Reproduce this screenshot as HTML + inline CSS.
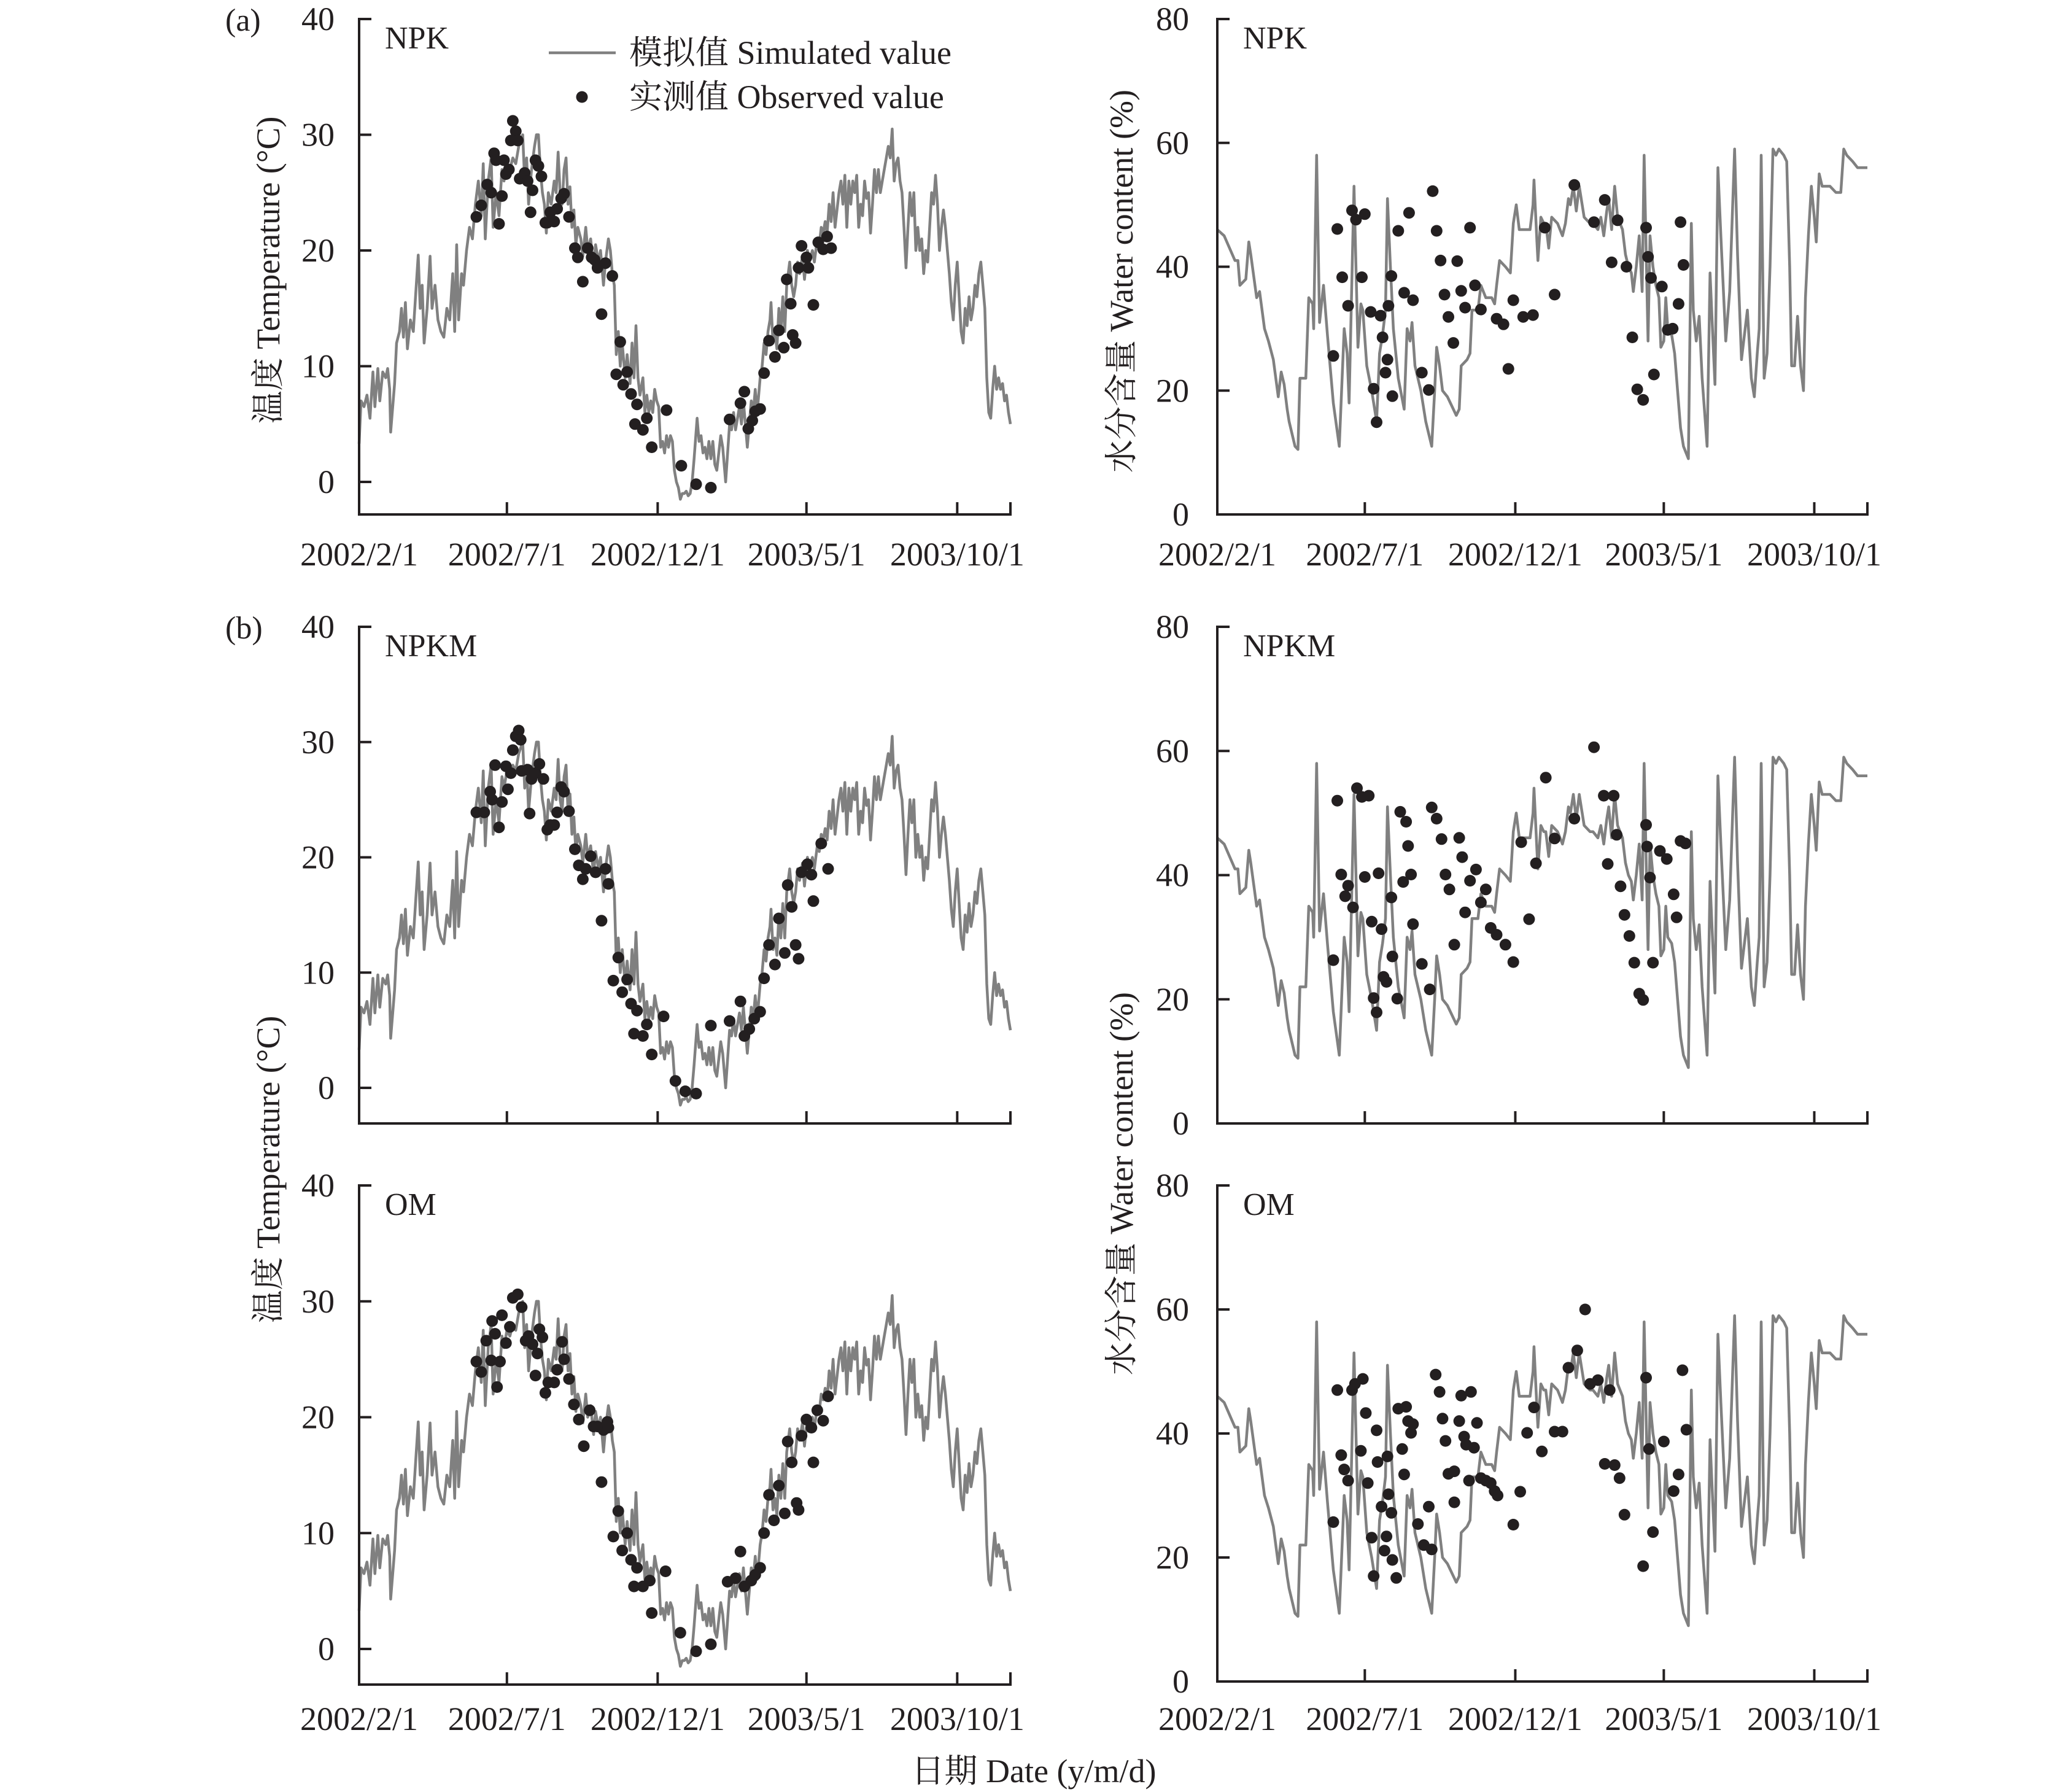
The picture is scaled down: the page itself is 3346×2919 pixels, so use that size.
<!DOCTYPE html>
<html><head><meta charset="utf-8"><style>
html,body{margin:0;padding:0;background:#fff;}
svg{display:block;}
text{font-family:"Liberation Serif","Noto Serif CJK SC","Noto Sans CJK SC",serif;fill:#231f20;}
</style></head><body>
<svg id="chart" width="3346" height="2919" viewBox="0 0 3346 2919" xmlns="http://www.w3.org/2000/svg"></svg>
<script>
const xTickDays=[0,150,303,454,607];
const xTickLabels=["2002/2/1","2002/7/1","2002/12/1","2003/5/1","2003/10/1"];
const tempTicks=[0,10,20,30,40];
const waterTicks=[0,20,40,60,80];
const simTempDays=[0,2,5,8,11,14,16,19,21,24,27,29,31,32,36,38,41,43,45,47,49,52,55,58,60,62,64,66,69,72,74,77,80,83,86,89,92,95,97,99,101,104,106,109,112,115,118,121,124,126,128,131,134,136,139,142,145,147,150,153,156,159,162,166,168,170,172,175,178,180,182,184,186,188,190,192,195,198,200,202,204,206,208,210,212,214,216,218,220,222,225,227,230,232,235,238,240,243,245,248,250,253,255,257,259,261,263,265,267,270,272,275,277,279,281,283,285,288,290,292,294,296,298,300,302,304,306,308,310,312,314,316,318,320,322,324,326,328,330,332,334,336,338,340,343,345,347,349,351,353,355,357,359,361,363,365,367,369,371,372,374,376,378,380,382,384,386,388,390,392,394,396,398,400,402,404,407,409,411,413,415,417,418,420,422,424,426,428,430,432,434,437,439,441,443,445,447,450,452,455,457,460,462,465,467,469,471,473,475,477,479,481,483,485,487,489,491,493,495,497,499,501,503,505,507,509,511,513,515,517,519,521,523,525,527,529,531,533,535,537,539,541,543,545,547,549,551,553,555,557,559,561,563,565,567,569,571,573,575,577,579,581,583,585,587,589,591,593,595,597,599,601,603,605,607,609,611,613,615,617,619,621,623,625,627,629,631,633,635,637,639,641,643,645,647,649,651,653,655,657,659,661];
const simTempVals=[3.3,7,6.5,7.5,5.5,9.5,6.5,9.8,7,9.5,9,9.8,8,4.3,8.5,12,13,15,12.5,15.5,11.5,14,13,17,19.6,15,17,12,15,19.5,15,17,14,13,12.5,15,14,18,13,20.5,14,18,17,20,22,21,24,26,23,27.5,21,26,28,22,25,23,27,26,27.5,27,28,27.5,29,30,26,28,24,27,29,30,30,27,25,24,21.5,25,24,26,25,28.5,25,24,27,28,24,25.5,22,23.5,20.5,22,21,19.5,22,20,21,18.5,20.5,19,20,17,19,21,20,18,17,11,13,10,12,9,11,8.5,12,9,13.5,9,7.5,9,6,7.5,6,7,6,8,7,6.5,3,3.5,2.5,4,3,4,3.5,1,0,-0.5,-1.5,-1,-1,-0.8,-1.2,-1,0,2,5.5,3.5,4,2.5,3,2,3.5,2,3.5,1.5,1,2.5,4,3,1,0,2.5,5,4.5,6,4.5,5.5,6.5,5,7,5,3,5,7,6,8,6,9,10,12,11,13,14,15.5,12,13,11.5,15,13,16,13,17,19,17,16,17,19,18,19.5,17.5,20,19,20,19,21,20.5,22,21.5,22.5,21.5,24,22.5,25,22,23.5,25,26,24,26.5,22,26,24,26,25,26.5,22,24,23,26,24.5,25,21.5,24,27,25,27,25,26,27,28,29,28,30.5,26,27.5,28,26,25,22,18.5,22,25,23,25,20,22,20,21,18,20,19,22,25,24,26.5,24,20,22,23.5,22,20,18,15.5,14,17,19,16,13,12,15,13.5,16,14,15,17,16,18,19,17,15,9,6,5.5,8,10,8,9,8,8.5,7,7.5,6,5];
const simWaterDays=[0,7,18,21,23,29,32,34,40,43,48,52,57,62,65,68,71,73,79,82,84,90,93,97,98,101,104,108,112,118,124,129,132,134,139,143,146,148,152,157,162,165,168,171,173,176,179,184,190,193,196,198,201,207,212,218,221,223,226,229,234,240,243,246,248,254,257,259,265,268,273,279,282,284,287,293,298,301,304,307,312,318,321,322,325,326,329,332,334,337,340,346,351,354,357,359,362,365,368,371,373,379,382,387,390,393,396,398,401,404,407,412,415,418,421,423,426,429,432,434,438,440,443,446,449,451,454,456,458,462,465,468,471,474,479,482,484,487,490,493,498,501,504,506,509,512,517,521,526,529,533,539,543,546,549,551,553,556,559,562,565,568,571,576,579,582,584,587,590,593,596,598,601,604,607,609,612,615,623,629,634,637,640,646,651,661];
const simWaterVals=[46,45,41,41,37,38,44,42,35,36,30,28,25,19,23,21,17,15,11,10.5,22,22,35,34,30,58,31,37,29,18,11,30,26,18,53,27,34,33,24,20,15,26,29,33,51,40,30,22,17,30,28,31,24,20,15,11,20,27,24,20,19,17,16,17,24,25,26,33,33,37,35,35,34,37,41,40,39,47,50,46,46,46,50,54,44,41,48,47,47,43,48,47,45,47,51,50,53,49,53,50,48,47,47,46,48,45,49,51,46,53,48,46,42,40,39,36,40,45,36,58,28,45,40,37,35,27,28,35,30,29,26,20,14,11,9,47,33,28,32,22,11,39,28,21,56,45,28,36,59,42,25,33,22,19,26,30,58,22,26,40,59,58,59,58,57,40,24,24,32,24,20,35,45,53,48,44,55,53,53,52,52,59,58,57,56,56];
const npkTempDays=[119,124,130,134,137,139,142,145,147,149,152,154,156,159,161,163,168,171,174,176,179,182,185,189,191,194,198,201,205,208,213,219,222,227,232,236,239,242,250,257,246,265,261,268,272,276,282,280,288,292,297,312,327,342,357,376,387,391,395,399,402,407,411,416,422,426,431,434,438,440,443,446,449,454,456,461,466,471,475,479];
const npkTempVals=[22.9,23.9,25.7,25.0,28.4,27.8,22.3,24.7,27.8,26.6,27.0,29.5,31.2,30.3,29.5,26.2,26.7,26.0,23.3,25.2,27.8,27.3,26.4,22.4,22.4,23.3,22.5,23.6,24.5,24.9,22.9,20.2,19.4,17.3,20.2,19.4,19.2,18.5,18.9,17.8,14.5,12.1,9.3,8.4,9.5,7.6,6.7,5.0,4.5,5.5,3.0,6.2,1.4,-0.2,-0.5,5.4,6.8,7.8,4.6,5.3,6.1,6.3,9.4,12.2,10.8,13.1,11.6,17.5,15.4,12.7,12.0,18.5,20.4,19.4,18.5,15.3,20.7,20.1,21.2,20.2];
const npkmTempDays=[119,127,133,135,138,142,145,149,151,154,156,159,162,164,165,171,173,175,179,183,187,191,194,198,201,205,208,213,219,223,227,230,235,240,246,250,253,258,263,267,272,276,282,279,288,292,297,309,321,331,342,357,376,387,391,396,401,407,411,416,422,426,432,435,439,443,446,449,455,459,461,469,476];
const npkmTempVals=[23.9,23.9,25.7,25.0,28.0,22.6,24.8,27.9,25.9,27.3,29.3,30.5,31.0,30.2,27.5,27.6,23.8,26.8,27.3,28.1,26.8,22.4,22.8,22.8,23.9,26.1,25.7,24.0,20.7,19.3,18.1,19.0,20.1,18.7,14.5,19.0,17.7,9.3,11.3,8.3,9.4,7.3,6.7,4.7,4.5,5.5,2.9,6.2,0.6,-0.3,-0.5,5.4,5.8,7.5,4.5,5.1,6.0,6.6,9.5,12.4,10.7,14.7,11.7,17.6,15.7,12.4,11.2,18.7,19.4,18.5,16.2,21.2,19.0];
const omTempDays=[119,124,129,134,135,138,140,143,145,149,153,156,161,165,169,172,176,179,181,183,186,189,192,198,201,206,208,213,218,223,228,234,238,242,246,248,252,253,258,263,267,272,276,282,279,288,295,297,311,326,342,357,374,382,387,391,398,402,407,411,416,421,426,432,435,439,444,446,449,454,459,461,465,471,476];
const omTempVals=[24.8,23.9,26.6,24.9,28.3,27.2,22.6,24.8,28.8,26.4,27.8,30.3,30.6,29.5,26.6,27.0,26.3,23.6,25.5,27.6,26.9,22.1,23.0,23.0,24.1,26.5,25.0,23.3,21.1,19.8,17.5,20.6,19.2,19.2,14.4,18.9,19.6,19.1,9.7,11.9,8.5,10.0,7.7,7.0,5.4,5.4,5.9,3.1,6.7,1.4,-0.2,0.4,5.8,6.1,8.4,5.4,5.9,6.4,7.0,10.0,13.3,11.1,14.1,11.7,17.9,16.1,12.6,12.0,18.4,19.8,19.1,16.1,20.6,19.7,21.8];
const npkWaterDays=[118,122,127,133,137,141,147,150,156,159,162,166,168,171,173,174,177,178,184,190,195,199,208,215,219,223,227,231,235,240,244,248,252,257,262,268,284,291,296,301,311,321,333,343,363,383,394,401,407,416,422,427,433,436,438,441,444,452,458,463,469,471,474];
const npkWaterVals=[25.6,46.1,38.3,33.7,49.1,47.6,38.3,48.5,32.7,20.3,14.9,32.1,28.6,22.9,25.0,33.7,38.5,19.1,45.8,35.8,48.7,34.6,22.9,20.1,52.2,45.8,41.0,35.5,31.9,27.7,40.9,36.1,33.4,46.3,37.0,33.1,31.6,30.7,23.5,34.6,31.9,32.2,46.3,35.5,53.2,47.2,50.8,40.7,47.5,40.0,28.6,20.2,18.5,46.3,41.6,38.2,22.6,36.8,29.8,30.0,34.0,47.2,40.3];
const npkmWaterDays=[118,122,126,130,133,138,142,147,154,150,157,159,162,164,167,169,172,177,178,183,186,189,192,194,197,199,208,216,218,223,228,232,236,241,246,249,252,257,263,268,273,278,284,293,301,309,317,324,334,343,363,383,393,397,403,406,410,414,419,424,429,433,436,437,440,443,450,457,464,467,471,476];
const npkmWaterVals=[26.3,52.0,40.1,36.6,38.3,34.8,54.0,52.6,52.8,39.7,32.5,20.2,17.9,40.3,31.3,23.6,22.8,36.4,26.9,20.1,50.2,38.9,48.6,44.7,40.1,32.1,25.7,21.6,50.9,49.1,45.8,40.1,37.7,28.8,46.0,42.9,34.0,39.1,40.9,35.6,37.7,31.5,30.4,28.8,26.0,45.3,32.9,41.9,55.7,45.9,49.1,60.6,52.8,41.8,52.8,46.5,38.2,33.6,30.2,25.9,20.9,19.9,48.1,44.6,39.6,25.9,43.9,42.6,36.9,33.2,45.5,45.1];
const omWaterDays=[118,122,126,129,133,137,140,148,146,151,153,157,159,162,163,167,170,172,173,174,177,178,182,184,188,190,192,194,197,199,204,210,215,218,222,226,229,232,235,241,241,246,248,251,253,256,258,261,264,268,273,278,282,285,301,308,315,322,330,343,351,357,366,374,379,387,394,399,404,409,414,433,436,439,443,454,464,469,473,477];
const omWaterVals=[25.7,47.0,36.5,34.2,32.4,47.0,48.0,48.8,37.2,43.3,32.0,23.2,17.0,40.5,35.4,28.2,21.1,23.4,36.3,30.2,27.2,19.6,16.7,44.0,37.5,33.4,44.3,42.0,40.1,41.5,25.4,22.0,28.2,21.3,49.5,46.7,42.4,38.8,33.5,33.9,28.9,42.0,46.1,39.5,38.2,32.4,46.7,37.7,41.7,32.8,32.4,32.0,30.7,30.0,25.3,30.6,40.1,44.2,37.1,40.3,40.3,50.6,53.4,60.0,48.0,48.6,35.1,47.0,34.9,32.8,26.9,18.6,49.0,37.5,24.1,38.7,30.7,33.4,50.2,40.6];

const NS="http://www.w3.org/2000/svg";
const svg=document.getElementById('chart');
function mk(tag,attrs,parent){const e=document.createElementNS(NS,tag);for(const k in attrs)e.setAttribute(k,attrs[k]);(parent||svg).appendChild(e);return e;}
const DAYMAX=661;
const panels=[
 {name:'npk-temperature',x0:585,x1:1646,top:31,y0:785,bottom:838,vmax:40,ticks:tempTicks,simD:simTempDays,simV:simTempVals,obsD:npkTempDays,obsV:npkTempVals,label:'NPK',dates:903,tickRight:545},
 {name:'npkm-temperature',x0:585,x1:1646,top:1021,y0:1772,bottom:1830,vmax:40,ticks:tempTicks,simD:simTempDays,simV:simTempVals,obsD:npkmTempDays,obsV:npkmTempVals,label:'NPKM',dates:null,tickRight:545},
 {name:'om-temperature',x0:585,x1:1646,top:1931,y0:2686,bottom:2744,vmax:40,ticks:tempTicks,simD:simTempDays,simV:simTempVals,obsD:omTempDays,obsV:omTempVals,label:'OM',dates:2800,tickRight:545},
 {name:'npk-water',x0:1983,x1:3042,top:31,y0:838,bottom:838,vmax:80,ticks:waterTicks,simD:simWaterDays,simV:simWaterVals,obsD:npkWaterDays,obsV:npkWaterVals,label:'NPK',dates:903,tickRight:1937},
 {name:'npkm-water',x0:1983,x1:3042,top:1021,y0:1830,bottom:1830,vmax:80,ticks:waterTicks,simD:simWaterDays,simV:simWaterVals,obsD:npkmWaterDays,obsV:npkmWaterVals,label:'NPKM',dates:null,tickRight:1937},
 {name:'om-water',x0:1983,x1:3042,top:1931,y0:2739,bottom:2739,vmax:80,ticks:waterTicks,simD:simWaterDays,simV:simWaterVals,obsD:omWaterDays,obsV:omWaterVals,label:'OM',dates:2800,tickRight:1937}
];
panels.forEach(p=>{
  const g=mk('g',{});
  
  
  const xs=d=>p.x0+(p.x1-p.x0)*d/DAYMAX;
  const ys=v=>p.y0+(p.top-p.y0)*v/p.vmax;
  let dstr='';
  for(let i=0;i<p.simD.length;i++){dstr+=(i?'L':'M')+xs(p.simD[i]).toFixed(1)+' '+ys(p.simV[i]).toFixed(1);}
  const ln=mk('path',{d:dstr,fill:'none',stroke:'#808080','stroke-width':4.5,'stroke-linejoin':'round'},g);
  
  
  for(let i=0;i<p.obsD.length;i++){
    const c=mk('circle',{cx:xs(p.obsD[i]).toFixed(1),cy:ys(p.obsV[i]).toFixed(1),r:9.5,fill:'#231f20'},g);
    
    
  }
  const ax=mk('path',{d:`M${p.x0+20} ${p.top}H${p.x0}V${p.bottom}H${p.x1}V${p.bottom-20}`,fill:'none',stroke:'#231f20','stroke-width':4},g);
  
  
  p.ticks.forEach(t=>{
    const y=ys(t);
    mk('line',{x1:p.x0,x2:p.x0+20,y1:y,y2:y,stroke:'#231f20','stroke-width':4},g);
    const tx=mk('text',{x:p.tickRight,y:y+18,'font-size':54,'text-anchor':'end'},g);
    tx.textContent=t;
    
    
  });
  xTickDays.forEach((d,i)=>{
    const x=xs(d);
    if(d>0) mk('line',{x1:x,x2:x,y1:p.bottom,y2:p.bottom-20,stroke:'#231f20','stroke-width':4},g);
    if(p.dates){
      const tx=mk('text',{x:x,y:p.dates+18,'font-size':54,'text-anchor':'middle'},g);
      tx.textContent=xTickLabels[i];
      
      
    }
  });
  const lb=mk('text',{x:p.x0+42,y:p.top+48,'font-size':52},g);
  lb.textContent=p.label;
  
  
});
function txt(s,attrs,name){const t=mk('text',attrs);t.textContent=s;return t;}
txt('(a)',{x:367,y:50,'font-size':52},'panel-a-label');
txt('(b)',{x:367,y:1040,'font-size':52},'panel-b-label');
txt('温度 Temperature (°C)',{x:0,y:0,'font-size':54,'text-anchor':'middle',transform:'translate(455 440) rotate(-90)'},'y-axis-title-temperature-a');
txt('温度 Temperature (°C)',{x:0,y:0,'font-size':54,'text-anchor':'middle',transform:'translate(455 1905) rotate(-90)'},'y-axis-title-temperature-b');
txt('水分含量 Water content (%)',{x:0,y:0,'font-size':54,'text-anchor':'middle',transform:'translate(1845 458) rotate(-90)'},'y-axis-title-water-a');
txt('水分含量 Water content (%)',{x:0,y:0,'font-size':54,'text-anchor':'middle',transform:'translate(1845 1928) rotate(-90)'},'y-axis-title-water-b');
txt('日期 Date (y/m/d)',{x:1684,y:2903,'font-size':54,'text-anchor':'middle'},'x-axis-title');
const lg=mk('g',{});


mk('line',{x1:894,x2:1003,y1:86,y2:86,stroke:'#808080','stroke-width':4.5},lg);
mk('circle',{cx:948,cy:158,r:9.5,fill:'#231f20'},lg);
const l1=mk('text',{x:1025,y:104,'font-size':54},lg);l1.textContent='模拟值 Simulated value';


const l2=mk('text',{x:1025,y:176,'font-size':54},lg);l2.textContent='实测值 Observed value';


</script>
</body></html>
